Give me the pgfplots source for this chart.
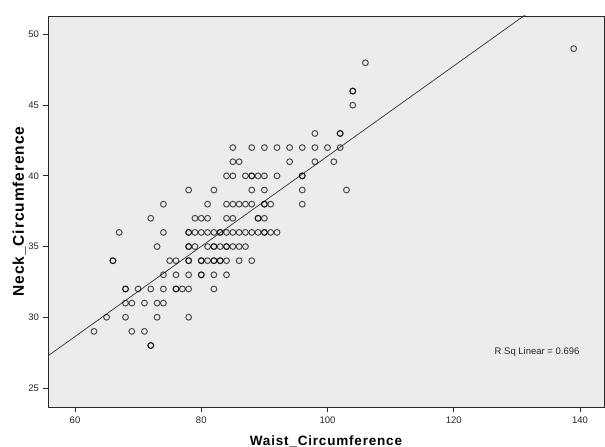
\documentclass[border=0pt]{standalone}
\usepackage{fontspec}
\setmainfont{Liberation Sans}
\newfontfamily\labelfont[LetterSpace=6]{Liberation Sans}
\usepackage{pgfplots}
\pgfplotsset{compat=1.18}
\definecolor{bgc}{RGB}{235,236,235}
\definecolor{axc}{RGB}{40,40,40}
\begin{document}
\begin{tikzpicture}
\begin{axis}[
  scale only axis,
  width=556pt, height=391pt,
  xmin=55.72, xmax=143.8,
  ymin=23.65, ymax=51.31,
  xtick={60,80,100,120,140},
  ytick={25,30,35,40,45,50},
  tick align=outside,
  xtick pos=left, ytick pos=left,
  major tick length=5pt,
  axis line style={axc, line width=0.9pt},
  every tick/.style={axc, line width=0.8pt},
  axis background/.style={fill=bgc},
  tick label style={font=\fontsize{9.5}{10}\selectfont, text=black!85},
  /pgf/number format/assume math mode=true,
  xticklabel style={yshift=-1pt},
  yticklabel style={xshift=-0.5pt},
  xlabel={\labelfont\bfseries\fontsize{13.5}{14}\selectfont Waist\_Circumference},
  xlabel style={at={(axis description cs:0.5,0)}, anchor=base, yshift=-38.5pt},
  ylabel={\labelfont\bfseries\fontsize{15.5}{16}\selectfont Neck\_Circumference},
  ylabel style={at={(axis description cs:0,0.5)}, anchor=base, yshift=24pt, xshift=0pt},
  clip=true,
]
\addplot[only marks, mark=o, mark size=2.9pt,
  mark options={draw=black, draw opacity=0.68, line width=1pt}]
coordinates {
(139,49)
(106,48)
(104,46) (104,46)
(104,45)
(98,43) (102,43) (102,43)
(85,42) (88,42) (90,42) (92,42) (94,42) (96,42) (98,42) (100,42) (102,42)
(85,41) (86,41) (94,41) (98,41) (101,41)
(84,40) (85,40) (87,40) (88,40) (88,40) (89,40) (90,40) (92,40) (96,40) (96,40)
(78,39) (82,39) (88,39) (90,39) (96,39) (103,39)
(74,38) (81,38) (84,38) (85,38) (86,38) (87,38) (88,38) (90,38) (90,38) (91,38) (96,38)
(72,37) (79,37) (80,37) (81,37) (84,37) (85,37) (89,37) (89,37) (90,37)
(67,36) (74,36) (78,36) (78,36) (79,36) (80,36) (81,36) (82,36) (83,36) (83,36) (84,36) (85,36) (86,36) (87,36) (88,36) (89,36) (90,36) (90,36) (91,36) (92,36)
(73,35) (78,35) (78,35) (79,35) (81,35) (82,35) (82,35) (83,35) (84,35) (84,35) (85,35) (86,35) (87,35)
(66,34) (66,34) (75,34) (76,34) (78,34) (78,34) (80,34) (80,34) (81,34) (82,34) (82,34) (83,34) (83,34) (84,34) (86,34) (88,34)
(74,33) (76,33) (78,33) (80,33) (80,33) (82,33) (84,33)
(68,32) (68,32) (70,32) (72,32) (74,32) (76,32) (76,32) (77,32) (78,32) (82,32)
(68,31) (69,31) (71,31) (73,31) (74,31)
(65,30) (68,30) (73,30) (78,30)
(63,29) (69,29) (71,29)
(72,28) (72,28)
};
\addplot[no marks, color=black!80, line width=0.7pt] coordinates {(55.72,27.27) (143.8,55.37)};
\node[font=\fontsize{9.5}{10}\selectfont, text=black!85] at (axis cs:133.2,27.57) {R Sq Linear = 0.696};
\end{axis}
\pgfresetboundingbox
\path (-48pt,-40pt) rectangle (557pt,407pt);
\end{tikzpicture}
\end{document}
